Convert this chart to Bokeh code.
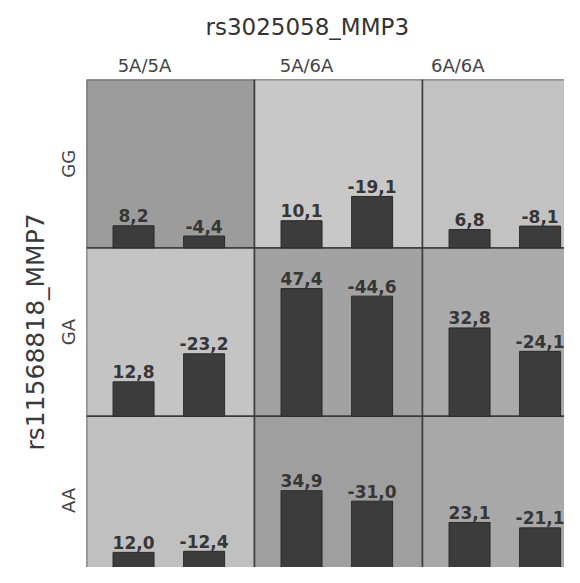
from bokeh.plotting import figure
from bokeh.models import Range1d, FixedTicker, Title, ColumnDataSource
from bokeh.core.properties import value
from bokeh.embed import file_html
from bokeh.resources import INLINE

# ---- data ----
col_labels = ["5A/5A", "5A/6A", "6A/6A"]
row_labels = ["GG", "GA", "AA"]
# row-major: GG row, GA row, AA row
first_vals = [8.2, 10.1, 6.8, 12.8, 47.4, 32.8, 12.0, 34.9, 23.1]
second_vals = [-4.4, -19.1, -8.1, -23.2, -44.6, -24.1, -12.4, -31.0, -21.1]
cell_colors = ["#9c9c9c", "#c8c8c8", "#c2c2c2",
               "#c4c4c4", "#a2a2a2", "#aaaaaa",
               "#c0c0c0", "#9f9f9f", "#a8a8a8"]
x_title = "rs3025058_MMP3"
y_title = "rs11568818_MMP7"

# ---- layout constants ----
W, H = 564, 567
BL, BT = 86, 78
PX_PER_COL = 168.0
PX_PER_UNIT = 2.7
ROW_H = 62.5          # value units per row
BAR_W = 0.244
BAR_POS = (0.28, 0.70)
HEADER_POS = [0.345, 1.31, 2.21]
FONT = "DejaVu Sans"

n_rows, n_cols = len(row_labels), len(col_labels)
top_y = n_rows * ROW_H

cells = dict(left=[], right=[], bottom=[], top=[], color=[])
bars = dict(x=[], bottom=[], top=[], label=[])
for i in range(n_rows):
    for j in range(n_cols):
        k = i * n_cols + j
        base = (n_rows - 1 - i) * ROW_H
        cells["left"].append(j)
        cells["right"].append(j + 1)
        cells["bottom"].append(base)
        cells["top"].append(base + ROW_H)
        cells["color"].append(cell_colors[k])
        for v, off in zip((first_vals[k], second_vals[k]), BAR_POS):
            bars["x"].append(j + off)
            bars["bottom"].append(base)
            bars["top"].append(base + abs(v))
            bars["label"].append(f"{v:.1f}".replace(".", ","))

cell_src = ColumnDataSource(cells)
bar_src = ColumnDataSource(bars)

p = figure(width=W, height=H, output_backend="svg", toolbar_location=None,
           x_range=Range1d(0, (W - BL) / PX_PER_COL),
           y_range=Range1d(top_y - (H - BT) / PX_PER_UNIT, top_y),
           x_axis_location="above", y_axis_location="left",
           min_border_left=BL, min_border_top=BT,
           min_border_right=0, min_border_bottom=0,
           background_fill_color="white", border_fill_color="white")
p.grid.visible = False
p.outline_line_color = None

p.quad(left="left", right="right", bottom="bottom", top="top", source=cell_src,
       fill_color="color", line_color="#3a3a3a", line_width=1.5)
p.vbar(x="x", width=BAR_W, bottom="bottom", top="top", source=bar_src,
       fill_color="#3c3c3c", line_color="#2a2a2a", line_width=1)
p.text(x="x", y="top", text="label", source=bar_src,
       text_align="center", text_baseline="alphabetic", y_offset=-10,
       text_font=value(FONT), text_font_style="bold", text_font_size="17px",
       text_color="#363636")

# column headers (above axis)
xa = p.xaxis[0]
xa.ticker = FixedTicker(ticks=HEADER_POS)
xa.major_label_overrides = {t: lab for t, lab in zip(HEADER_POS, col_labels)}
xa.major_label_text_font = FONT
xa.major_label_text_font_size = "18px"
xa.major_label_text_color = "#444444"
xa.major_label_standoff = 4
xa.major_tick_out = 0
xa.axis_line_color = None
xa.major_tick_line_color = None
xa.minor_tick_line_color = None

# row headers (left axis)
row_centers = [(n_rows - 1 - i) * ROW_H + ROW_H / 2 for i in range(n_rows)]
ya = p.yaxis[0]
ya.ticker = FixedTicker(ticks=row_centers)
ya.major_label_overrides = {t: lab for t, lab in zip(row_centers, row_labels)}
ya.major_label_orientation = "vertical"
ya.major_label_text_font = FONT
ya.major_label_text_font_size = "18px"
ya.major_label_text_color = "#444444"
ya.major_label_standoff = 7
ya.major_tick_out = 0
ya.axis_line_color = None
ya.major_tick_line_color = None
ya.minor_tick_line_color = None

t = Title(text=x_title, align="left", offset=119, standoff=23, text_font=FONT,
          text_font_size="23px", text_font_style="normal", text_color="#333333")
p.add_layout(t, "above")

ty = Title(text=y_title, align="left", offset=117, standoff=12, text_font=FONT,
           text_font_size="25px", text_font_style="normal", text_color="#3a3a3a")
p.add_layout(ty, "left")

open("out.html", "w").write(file_html(p, INLINE))
